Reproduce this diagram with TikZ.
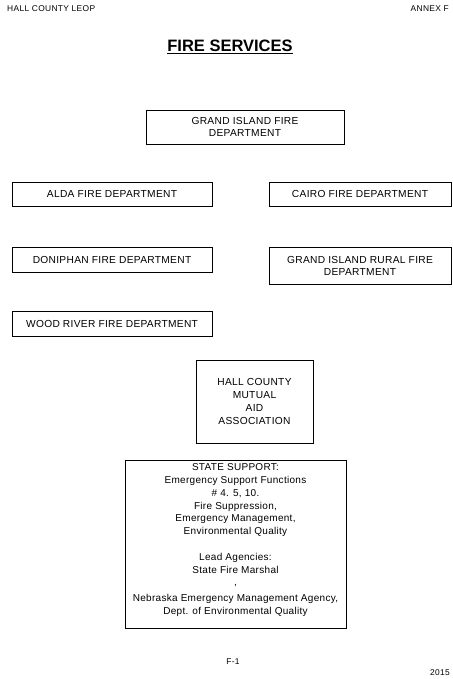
\documentclass[tikz,border=0pt]{standalone}
\usepackage{fontspec}
\setmainfont{Liberation Sans}
\usepackage{tikz}

\begin{document}
\begin{tikzpicture}[x=1pt,y=1pt,yscale=-1,xscale=1,
  dept/.style={draw,line width=0.8pt,inner sep=0pt,align=center,
    font=\fontsize{10.2}{12}\selectfont\addfontfeature{LetterSpace=3}},
  note/.style={inner sep=0pt,font=\fontsize{8.4}{10}\selectfont\addfontfeature{LetterSpace=4}}]
%set diagram to the page size
\useasboundingbox (0,0) rectangle (452,679);

%Header and footer
\node [note,anchor=west] (hdr) at (7,9) {HALL COUNTY LEOP};
\node [note,anchor=east] (annex) at (449,9) {ANNEX F};
\node [note] (pg) at (233,662) {F-1};
\node [note,anchor=east] (yr) at (450,673) {2015};

%Title
\node [inner sep=0pt,font=\fontsize{16.5}{18}\selectfont\bfseries] (title) at (230,47) {\underline{FIRE SERVICES}};

%Shape: Rectangle
\node [dept,minimum width=198,minimum height=34] (gifd) at (245,127) {GRAND ISLAND FIRE\\DEPARTMENT};
%Shape: Rectangle
\node [dept,minimum width=200,minimum height=24] (alda) at (112,194) {ALDA FIRE DEPARTMENT};
%Shape: Rectangle
\node [dept,minimum width=182,minimum height=24] (cairo) at (360,194) {CAIRO FIRE DEPARTMENT};
%Shape: Rectangle
\node [dept,minimum width=200,minimum height=25,line width=1pt] (doni) at (112,259.5) {DONIPHAN FIRE DEPARTMENT};
%Shape: Rectangle
\node [dept,minimum width=182,minimum height=37] (girural) at (360,265.5) {GRAND ISLAND RURAL FIRE\\DEPARTMENT};
%Shape: Rectangle
\node [dept,minimum width=200,minimum height=25] (wood) at (112,323.5) {WOOD RIVER FIRE DEPARTMENT};
%Shape: Rectangle
\node [dept,minimum width=117,minimum height=83,font=\fontsize{10.2}{13}\selectfont\addfontfeature{LetterSpace=3}] (mutual) at (254.5,401.5) {HALL COUNTY\\MUTUAL\\AID\\ASSOCIATION};
%Shape: Rectangle
\node [dept,minimum width=221,minimum height=168] (state) at (235.5,544) {};
%Text Node
\node [inner sep=0pt,align=center,anchor=north,font=\fontsize{10}{12.8}\selectfont\addfontfeature{LetterSpace=3}] (statetxt) at ([yshift=4pt]state.north) {STATE SUPPORT:\\Emergency Support Functions\\\# 4. 5, 10.\\Fire Suppression,\\Emergency Management,\\Environmental Quality\\[12.8pt]Lead Agencies:\\State Fire Marshal\\,\\[3pt]Nebraska Emergency Management Agency,\\Dept. of Environmental Quality};

\end{tikzpicture}
\end{document}
